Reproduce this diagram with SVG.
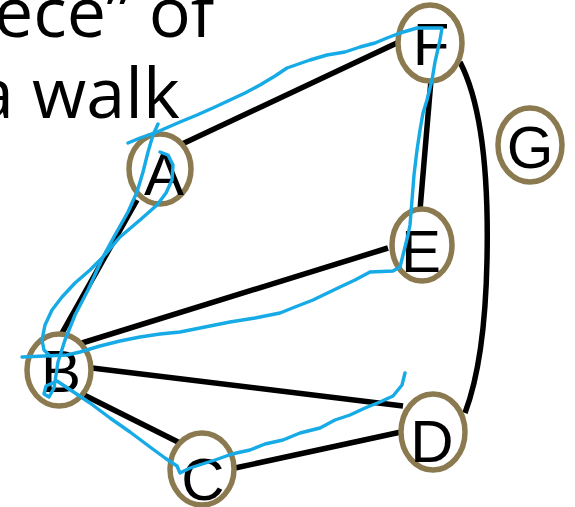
<svg xmlns="http://www.w3.org/2000/svg" width="575" height="507" viewBox="0 0 575 507">
<style>
.edge{stroke:#000;stroke-width:5.5;fill:none;stroke-linecap:butt}
.node ellipse{fill:#fff;stroke:#8b7a50;stroke-width:5.5}
.node text{font-family:"Liberation Sans",Arial,sans-serif;font-size:60px;fill:#000;text-anchor:middle}
.walk{stroke:#16aae6;stroke-width:3.4;fill:none;stroke-linecap:round;stroke-linejoin:round}
.title{font-family:"Open Sans","Liberation Sans",sans-serif;font-size:70px;fill:#000}
</style>
<rect width="575" height="507" fill="#fff"/>
<g id="title">
<text class="title" x="-6" y="37">ece” of</text>
<text class="title" x="-25" y="118">a walk</text>
</g>
<g id="connectors">
<line class="edge" x1="180" y1="145" x2="399" y2="42"/>
<line class="edge" x1="431" y1="80" x2="420" y2="210"/>
<path class="edge" d="M460,62 Q490,120 487,260 Q485,360 465,413"/>
<line class="edge" x1="137" y1="200" x2="62" y2="333"/>
<line class="edge" x1="82" y1="343" x2="388" y2="248"/>
<line class="edge" x1="92" y1="368" x2="403" y2="406"/>
<line class="edge" x1="80" y1="393" x2="180" y2="443"/>
<line class="edge" x1="235" y1="468" x2="401" y2="432"/>
</g>
<g id="A" class="node"><ellipse cx="160" cy="169" rx="31" ry="35"/><text x="164" y="195">A</text></g>
<g id="B" class="node"><ellipse cx="59" cy="370" rx="32" ry="36"/><text x="61" y="392">B</text></g>
<g id="C" class="node"><ellipse cx="202" cy="469" rx="32" ry="36"/><text x="203" y="500">C</text></g>
<g id="D" class="node"><ellipse cx="433" cy="432" rx="32" ry="38"/><text x="432" y="462">D</text></g>
<g id="E" class="node"><ellipse cx="422" cy="245" rx="30" ry="36"/><text x="421" y="272">E</text></g>
<g id="F" class="node"><ellipse cx="430" cy="43" rx="32" ry="38"/><text x="431" y="65">F</text></g>
<g id="G" class="node"><ellipse cx="530" cy="145" rx="32" ry="37"/><text x="530" y="168">G</text></g>
<g id="walk">
<path class="walk" d="M405,373 L402,385 L393,396 L380,402 L365,408 L350,415 L335,420 L320,428 L300,433 L283,440 L265,444 L250,450 L232,454 L215,460 L190,468 L180,473 L177,466 L165,458 L150,447 L130,432 L110,418 L90,403 L75,393 L57,381 L46,386 L44,394 L49,397 L54,388 L58,362 L65,340 L75,315 L88,290 L103,257 L115,235 L128,212 L137,192 L143,172 L148,152 L153,135 L158,124"/>
<path class="walk" d="M160,152 L168,155 L173,165 L172,180 L166,193 L157,205 L140,220 L120,237 L103,257 L90,270 L75,283 L62,297 L52,310 L45,325 L42,340 L44,350 L50,356"/>
<path class="walk" d="M128,143 L140,138 L157,132 L180,122 L197,115 L215,107 L230,100 L245,93 L260,85 L275,76 L287,68 L310,60 L327,55 L345,52 L360,47 L375,43 L387,38 L400,33 L417,28 L442,28 L440,40 L435,62 L432,80 L427,100 L423,113 L420,130 L417,150 L414,175 L412,200 L410,225 L408,235 L403,255 L400,267 L393,271 L370,272 L355,280 L340,287 L313,300 L295,307 L280,313 L255,318 L230,322 L205,327 L180,332 L160,334 L140,337 L120,341 L100,346 L80,352 L67,355 L22,357"/>
</g>
</svg>
